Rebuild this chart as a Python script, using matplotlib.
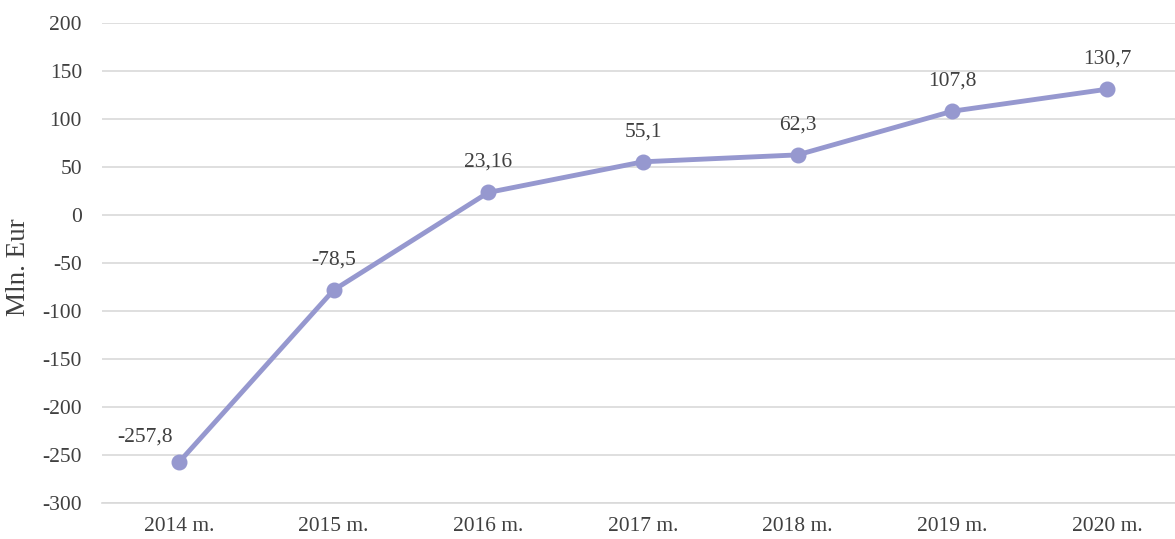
import matplotlib
matplotlib.use("Agg")
import matplotlib.pyplot as plt

years = ["2014 m.", "2015 m.", "2016 m.", "2017 m.", "2018 m.", "2019 m.", "2020 m."]
values = [-257.8, -78.5, 23.16, 55.1, 62.3, 107.8, 130.7]
labels = ["-257,8", "-78,5", "23,16", "55,1", "62,3", "107,8", "130,7"]
yticks = [-300, -250, -200, -150, -100, -50, 0, 50, 100, 150, 200]

plt.rcParams['font.family'] = ['Liberation Serif', 'DejaVu Serif']
txt = '#404040'
line_c = '#9698CF'
fs = 15.5

fig = plt.figure(figsize=(11.75, 5.39), dpi=100)
ax = fig.add_axes([102/1175, 1-502.7/539, 1-102/1175, (502.7-22.7)/539])

x = list(range(len(years)))
ax.plot(x, values, color=line_c, lw=3.5, marker='o', ms=10.5, zorder=3, solid_capstyle='round')

ax.set_ylim(-300, 200)
ax.set_yticks(yticks)
ax.set_yticklabels([str(t) for t in yticks])
ax.set_xlim(-0.498, 6.44)
ax.set_xticks(x)
ax.set_xticklabels(years)

ax.grid(axis='y', color='#d9d9d9', lw=1.2)
ax.set_axisbelow(True)
for s in ['top', 'right', 'left']:
    ax.spines[s].set_visible(False)
ax.spines['bottom'].set_color('#d9d9d9')
ax.spines['bottom'].set_linewidth(1.2)
ax.tick_params(axis='both', length=0, labelsize=fs, colors=txt)
ax.tick_params(axis='y', pad=14.4)
ax.tick_params(axis='x', pad=10)

ax.set_ylabel("Mln. Eur", fontsize=19.5, color=txt)
ax.yaxis.set_label_coords(-71/1073, 0.49)

for i, (v, lab) in enumerate(zip(values, labels)):
    if i == 0:
        ax.annotate(lab, (i, v), xytext=(-34, 25), textcoords='offset pixels',
                    ha='center', va='center', fontsize=fs, color=txt)
    else:
        ax.annotate(lab, (i, v), xytext=(0, 30), textcoords='offset pixels',
                    ha='center', va='center', fontsize=fs, color=txt)

fig.savefig("out.png", dpi=100)
